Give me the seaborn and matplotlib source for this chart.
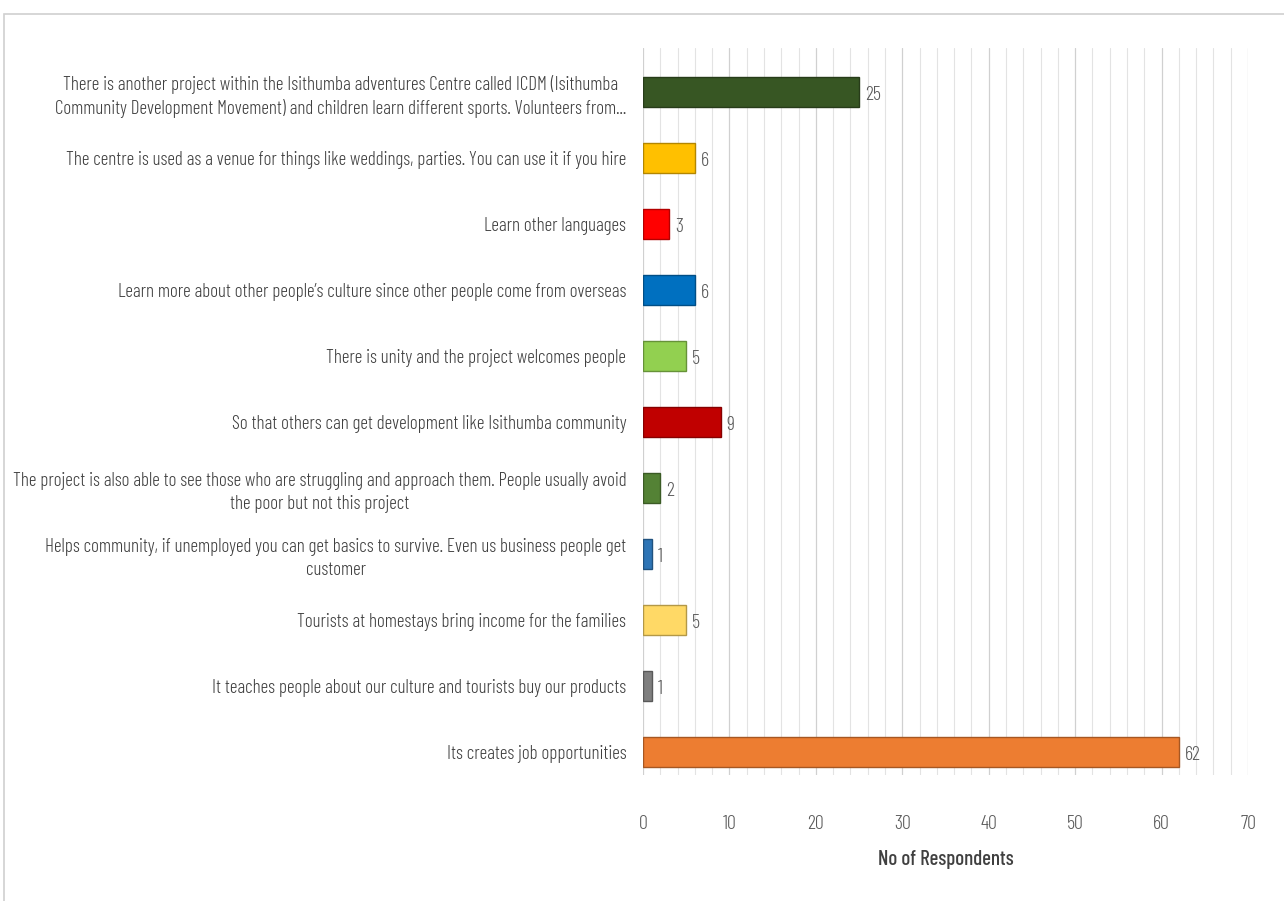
import matplotlib
matplotlib.use('Agg')
import matplotlib.pyplot as plt
import seaborn as sns
import pandas as pd
from matplotlib.patches import Rectangle

categories = [
    "There is another project within the Isithumba adventures Centre called ICDM (Isithumba\n"
    "Community Development Movement) and children learn different sports. Volunteers from...",
    "The centre is used as a venue for things like weddings, parties. You can use it if you hire",
    "Learn other languages",
    "Learn more about other people\u2019s culture since other people come from overseas",
    "There is unity and the project welcomes people",
    "So that others can get development like Isithumba community",
    "The project is also able to see those who are struggling and approach them. People usually avoid\n"
    "the poor but not this project",
    "Helps community, if unemployed you can get basics to survive. Even us business people get\n"
    "customer",
    "Tourists at homestays bring income for the families",
    "It teaches people about our culture and tourists buy our products",
    "Its creates job opportunities",
]
respondents = [25, 6, 3, 6, 5, 9, 2, 1, 5, 1, 62]
bar_colors = ["#375623", "#FFC000", "#FF0000", "#0070C0", "#92D050", "#C00000",
              "#548235", "#2E75B6", "#FFD966", "#7F7F7F", "#ED7D31"]

df = pd.DataFrame({"category": categories, "n": respondents})

sns.set_style("white")
plt.rcParams['font.family'] = ['Barlow Condensed', 'DejaVu Sans']

fig = plt.figure(figsize=(12.84, 9.01), dpi=100)
ax = fig.add_axes([0.5008, 0.140, 0.4712, 0.8067])

sns.barplot(data=df, x="n", y="category", hue="category", palette=bar_colors,
            legend=False, width=0.46, ax=ax, saturation=1, orient="h")

# darker outline to hint at the bevelled Excel bars
for p, c in zip(ax.patches, bar_colors):
    r, g, b = matplotlib.colors.to_rgb(c)
    p.set_edgecolor((r * 0.7, g * 0.7, b * 0.7))
    p.set_linewidth(1.0)

ax.set_xlim(0, 70)
ax.set_ylim(10.35, -0.667)
ax.set_xticks(range(0, 71, 10))
ax.set_xticks(range(0, 71, 2), minor=True)
ax.grid(axis="x", which="major", color="#D0D0D0", linewidth=0.9)
ax.grid(axis="x", which="minor", color="#E3E3E3", linewidth=0.8)
ax.set_axisbelow(True)
for s in ax.spines.values():
    s.set_visible(False)

ax.tick_params(axis="x", which="both", length=0, colors="#595959", labelsize=14.5, pad=29)
ax.tick_params(axis="y", length=0, colors="#404040", labelsize=13.8, pad=12)
for lbl in ax.get_yticklabels():
    lbl.set_fontweight(300)
    lbl.set_multialignment("center")
    lbl.set_linespacing(1.35)
for lbl in ax.get_xticklabels():
    lbl.set_fontweight(300)
ax.set_ylabel("")
ax.set_xlabel("No of Respondents", fontsize=15, color="#404040", fontweight=500, labelpad=12)

for i, v in enumerate(respondents):
    ax.text(v + 0.7, i + 0.05, str(v), va="center", ha="left", fontsize=14.5,
            fontweight=300, color="#595959")

fig.add_artist(Rectangle((0.003, -0.01), 1.1, 0.995, transform=fig.transFigure,
                         fill=False, edgecolor="#D0D0D0", linewidth=1.2))

fig.savefig("out.png", dpi=100)
